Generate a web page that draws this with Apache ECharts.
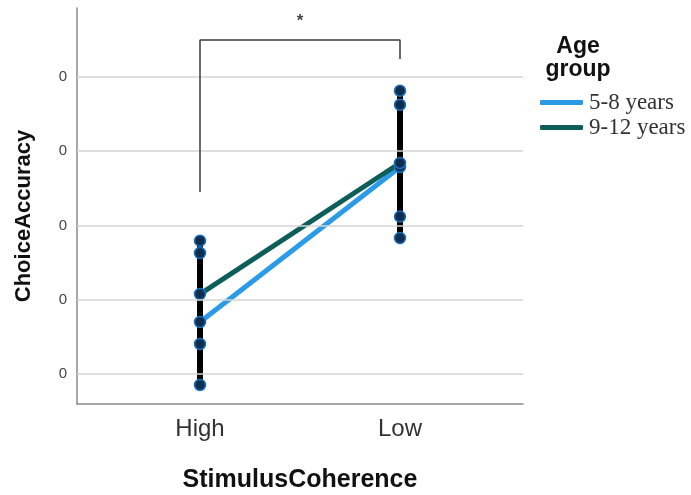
<!DOCTYPE html>
<html>
<head>
<meta charset="utf-8">
<script src="https://cdn.jsdelivr.net/npm/echarts@6/dist/echarts.min.js"></script>
<style>html,body{margin:0;padding:0;background:#fff}#c{width:691px;height:495px}</style>
</head>
<body>
<div id="c"></div>
<script>
var categories = ['High', 'Low'];
var groups = ['5-8 years', '9-12 years'];
var yTicks = [0.60, 0.65, 0.70, 0.75, 0.80];
var yTickLabels = ['0', '0', '0', '0', '0'];
var mean58 = [0.6350, 0.7393];
var mean912 = [0.6538, 0.7420];
var lo58 = [0.5926, 0.6915];
var hi58 = [0.6814, 0.7906];
var lo912 = [0.6202, 0.7059];
var hi912 = [0.6897, 0.7812];
var bracket = [[0, 0.7225], [0, 0.8248], [1, 0.8248], [1, 0.8120]];
var starPos = [0.5, 0.8396];

var chart = echarts.init(document.getElementById('c'), null, {renderer: 'canvas'});

var errData = [];
var circleData = [];
for (var i = 0; i < categories.length; i++) {
  errData.push([i, lo58[i], hi58[i]]);
  errData.push([i, lo912[i], hi912[i]]);
  circleData.push([i, lo58[i]], [i, hi58[i]], [i, mean58[i]],
                  [i, lo912[i]], [i, hi912[i]], [i, mean912[i]]);
}

function labelFor(v, arr, labels) {
  for (var k = 0; k < arr.length; k++) {
    if (Math.abs(arr[k] - v) < 1e-6) return labels[k];
  }
  return '';
}

var option = {
  animation: false,
  grid: {left: 77, right: 168, top: 8, bottom: 91},
  xAxis: {
    type: 'value', min: -0.615, max: 1.615,
    splitLine: {show: false},
    axisTick: {show: false},
    axisLine: {show: true, onZero: false, lineStyle: {color: '#8a8a8a', width: 1.5}},
    axisLabel: {
      margin: 13, color: '#333', fontSize: 24, fontFamily: 'Liberation Sans',
      showMinLabel: false, showMaxLabel: false,
      formatter: function (v) {
        var idx = Math.round(v);
        if (Math.abs(v - idx) < 1e-6 && idx >= 0 && idx < categories.length) return categories[idx];
        return '';
      }
    }
  },
  yAxis: {
    type: 'value', min: 0.5798, max: 0.8463,
    splitLine: {show: false},
    axisTick: {show: false},
    axisLine: {show: true, onZero: false, lineStyle: {color: '#8a8a8a', width: 1.5}},
    axisLabel: {
      margin: 10, color: '#444', fontSize: 15, fontFamily: 'Liberation Sans',
      showMinLabel: false, showMaxLabel: false,
      formatter: function (v) { return labelFor(v, yTicks, yTickLabels); }
    }
  },
  legend: {
    data: groups,
    orient: 'vertical',
    left: 540, top: 91, padding: 0,
    itemWidth: 43, itemHeight: 5, itemGap: 2,
    icon: 'roundRect',
    textStyle: {fontFamily: 'Liberation Serif', fontSize: 23, color: '#333', padding: [0, 0, 0, 1]}
  },
  graphic: [
    {type: 'text', x: 578, y: 47, style: {text: 'Age', font: 'bold 23px "Liberation Sans"', fill: '#111', textAlign: 'center', textVerticalAlign: 'middle'}},
    {type: 'text', x: 578, y: 70, style: {text: 'group', font: 'bold 23px "Liberation Sans"', fill: '#111', textAlign: 'center', textVerticalAlign: 'middle'}},
    {type: 'text', x: 24, y: 216, rotation: Math.PI / 2, style: {text: 'ChoiceAccuracy', font: 'bold 22px "Liberation Sans"', fill: '#111', textAlign: 'center', textVerticalAlign: 'middle'}},
    {type: 'text', x: 300, y: 480, style: {text: 'StimulusCoherence', font: 'bold 25px "Liberation Sans"', fill: '#111', textAlign: 'center', textVerticalAlign: 'middle'}}
  ],
  series: [
    {
      type: 'line', name: 'grid', data: [], silent: true, z: 0,
      markLine: {
        silent: true, symbol: ['none', 'none'], label: {show: false},
        lineStyle: {color: '#d4d4d4', width: 1.5, type: 'solid'},
        data: yTicks.map(function (t) { return {yAxis: t}; })
      }
    },
    {
      type: 'line', name: '5-8 years', z: 2,
      data: mean58.map(function (v, i) { return [i, v]; }),
      showSymbol: false, symbol: 'none',
      itemStyle: {color: '#2b9be8'},
      lineStyle: {color: '#2b9be8', width: 5}
    },
    {
      type: 'line', name: '9-12 years', z: 2,
      data: mean912.map(function (v, i) { return [i, v]; }),
      showSymbol: false, symbol: 'none',
      itemStyle: {color: '#0d5e58'},
      lineStyle: {color: '#0d5e58', width: 5}
    },
    {
      type: 'custom', name: 'err', z: 3, silent: true,
      data: errData,
      renderItem: function (params, api) {
        var a = api.coord([api.value(0), api.value(1)]);
        var b = api.coord([api.value(0), api.value(2)]);
        return {type: 'line', shape: {x1: a[0], y1: a[1], x2: b[0], y2: b[1]}, style: {stroke: '#000', lineWidth: 6}};
      }
    },
    {
      type: 'scatter', name: 'pts', z: 4, silent: true,
      data: circleData, symbol: 'circle', symbolSize: 11,
      itemStyle: {color: '#0f2e4d', borderColor: '#1b6fc2', borderWidth: 1.5, opacity: 1}
    },
    {
      type: 'line', name: 'bracket', z: 5, silent: true,
      data: bracket, showSymbol: false, symbol: 'none',
      lineStyle: {color: '#3a3a3a', width: 1.5}
    },
    {
      type: 'scatter', name: 'star', z: 5, silent: true,
      data: [starPos], symbolSize: 0,
      label: {show: true, position: 'inside', offset: [0, 3], formatter: '*', color: '#111', fontSize: 17, fontWeight: 'bold', fontFamily: 'Liberation Sans'}
    }
  ]
};
chart.setOption(option);
</script>
</body>
</html>
